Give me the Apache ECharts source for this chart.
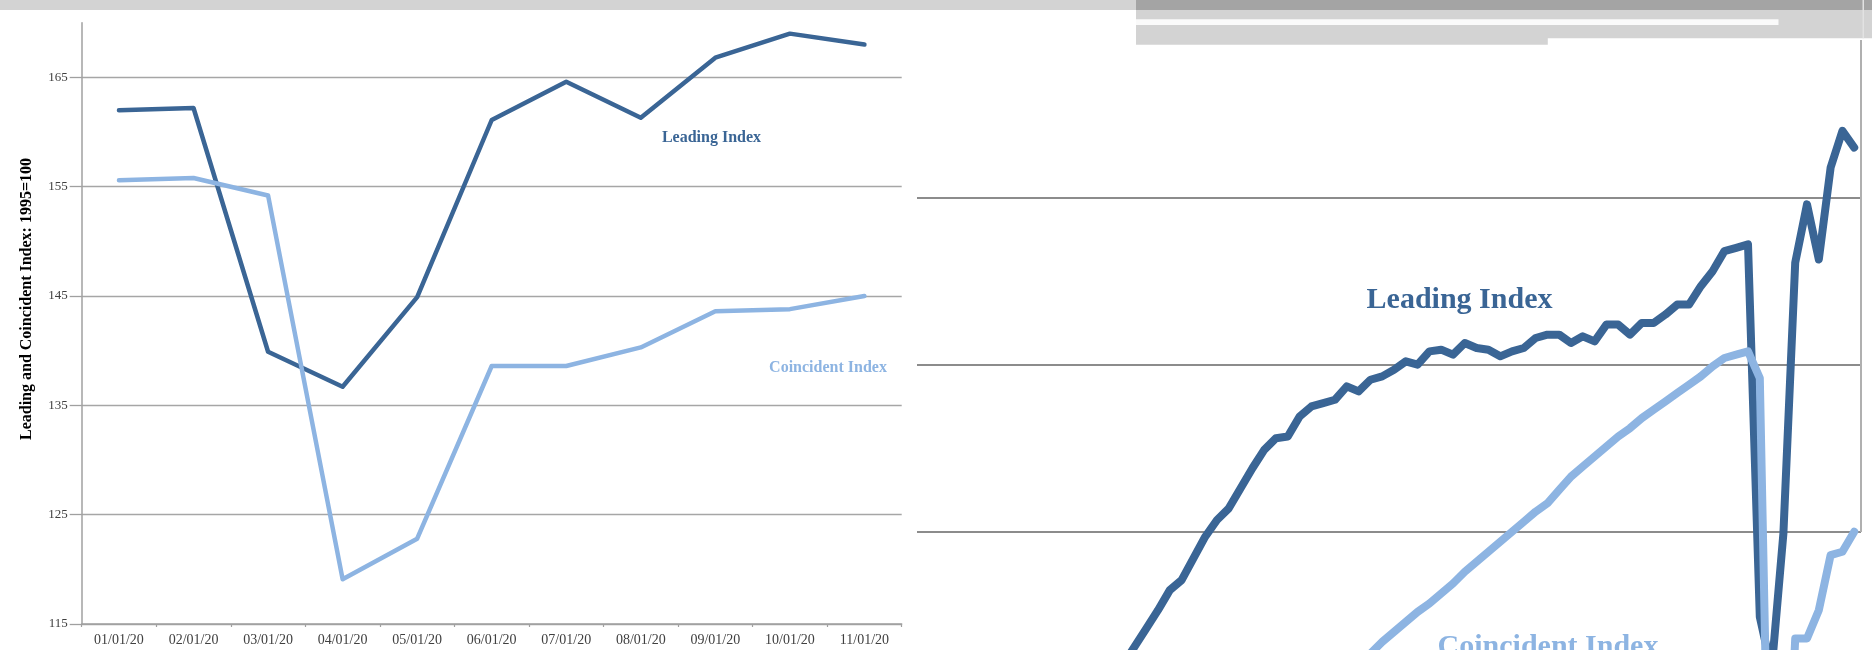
<!DOCTYPE html>
<html>
<head>
<meta charset="utf-8">
<script src="https://cdn.jsdelivr.net/npm/echarts@6/dist/echarts.min.js"></script>
<style>
  html, body { margin: 0; padding: 0; background: #ffffff; }
  #chart { width: 1872px; height: 650px; }
</style>
</head>
<body>
<div id="chart"></div>
<script>
// 2020 monthly readings (index, 1995 = 100)
const months2020 = ['01/01/20', '02/01/20', '03/01/20', '04/01/20', '05/01/20', '06/01/20',
                    '07/01/20', '08/01/20', '09/01/20', '10/01/20', '11/01/20'];
const leading2020 = [162.0, 162.2, 139.9, 136.7, 144.9, 161.1, 164.6, 161.3, 166.8, 169.0, 168.0];
const coincident2020 = [155.6, 155.8, 154.2, 119.1, 122.8, 138.6, 138.6, 140.3, 143.6, 143.8, 145.0];
const indexTicks = [115, 125, 135, 145, 155, 165];

// Longer monthly history leading into 2020 (close-up panel)
const leadingHistoryStart = { year: 2015, month: 9 };
const leadingHistory = [
  137.0, 138.1, 139.2, 140.3,
  141.5, 142.1, 143.4, 144.7, 145.7, 146.4, 147.6, 148.8, 149.9, 150.6, 150.7, 151.9,
  152.5, 152.7, 152.9, 153.7, 153.4, 154.1, 154.3, 154.7, 155.2, 155.0, 155.8, 155.9,
  155.6, 156.3, 156.0, 155.9, 155.5, 155.8, 156.0, 156.6, 156.8, 156.8, 156.3, 156.7,
  156.4, 157.4, 157.4, 156.8, 157.5, 157.5, 158.0, 158.6, 158.6, 159.7, 160.6, 161.8
];
const coincidentHistoryStart = { year: 2017, month: 6 };
const coincidentHistory = [
  137.7, 138.4, 139.0, 139.6, 140.2, 140.7, 141.3,
  141.9, 142.6, 143.2, 143.8, 144.4, 145.0, 145.6, 146.2, 146.7, 147.5, 148.3, 148.9,
  149.5, 150.1, 150.7, 151.2, 151.8, 152.3, 152.8, 153.3, 153.8, 154.3, 154.9, 155.4
];
const closeUpGridValues = [145, 155, 165];

const DARK = '#3a6595';
const LIGHT = '#8db4e2';
const SERIF = '"Liberation Serif", "Times New Roman", serif';

// [decimal year, value] pairs for a run of consecutive months
function monthlyPoints(start, values) {
  return values.map((v, i) => [start.year + (start.month - 1 + i) / 12, v]);
}
const leadingLong = monthlyPoints(leadingHistoryStart, leadingHistory.concat(leading2020));
const coincidentLong = monthlyPoints(coincidentHistoryStart, coincidentHistory.concat(coincident2020));

const chart = echarts.init(document.getElementById('chart'), null, { renderer: 'canvas' });

const option = {
  animation: false,
  backgroundColor: '#ffffff',
  grid: [
    { left: 81.7, right: 970.3, top: 22.7, bottom: 26 },
    { left: 917, right: 11, top: 14, bottom: 1.4 }
  ],
  xAxis: [
    {
      gridIndex: 0,
      type: 'category',
      data: months2020,
      boundaryGap: true,
      axisLine: { show: true, lineStyle: { color: '#a0a0a0', width: 1.5 } },
      axisTick: { show: true, length: 3, interval: 0, lineStyle: { color: '#a0a0a0', width: 1.2 } },
      axisLabel: { interval: 0, margin: 9, fontFamily: SERIF, fontSize: 14, color: '#404040' },
      splitLine: { show: false }
    },
    {
      gridIndex: 1,
      type: 'value',
      min: 2014.2147,
      max: 2020.8813,
      show: false
    }
  ],
  yAxis: [
    {
      gridIndex: 0,
      type: 'value',
      min: 115,
      max: 170,
      axisLine: { show: true, lineStyle: { color: '#a0a0a0', width: 1.5 } },
      axisTick: { show: true, length: 12, customValues: indexTicks, lineStyle: { color: '#a0a0a0', width: 1.3 } },
      axisLabel: { customValues: indexTicks, margin: 14, fontFamily: SERIF, fontSize: 13, color: '#404040' },
      splitLine: { show: true, lineStyle: { color: '#a6a6a6', width: 1.3 } }
    },
    {
      gridIndex: 1,
      type: 'value',
      min: 138,
      max: 176,
      axisLine: { show: false },
      axisTick: { show: false, customValues: closeUpGridValues },
      axisLabel: { show: false, customValues: closeUpGridValues },
      splitLine: { show: true, lineStyle: { color: '#8c8c8c', width: 2.2 } }
    }
  ],
  series: [
    {
      name: 'Leading Index',
      type: 'line',
      xAxisIndex: 0, yAxisIndex: 0,
      data: leading2020,
      symbol: 'none',
      lineStyle: { color: DARK, width: 4.5, cap: 'round', join: 'round' },
      z: 3
    },
    {
      name: 'Coincident Index',
      type: 'line',
      xAxisIndex: 0, yAxisIndex: 0,
      data: coincident2020,
      symbol: 'none',
      lineStyle: { color: LIGHT, width: 4.5, cap: 'round', join: 'round' },
      z: 4
    },
    {
      name: 'Leading Index (monthly)',
      type: 'line',
      xAxisIndex: 1, yAxisIndex: 1,
      data: leadingLong,
      symbol: 'none',
      clip: true,
      lineStyle: { color: DARK, width: 8, cap: 'round', join: 'round' },
      z: 3
    },
    {
      name: 'Coincident Index (monthly)',
      type: 'line',
      xAxisIndex: 1, yAxisIndex: 1,
      data: coincidentLong,
      symbol: 'none',
      clip: true,
      lineStyle: { color: LIGHT, width: 8, cap: 'round', join: 'round' },
      z: 4
    }
  ],
  graphic: [
    // axis title
    {
      type: 'text', x: 26.7, y: 299, rotation: Math.PI / 2, z: 10,
      style: {
        text: 'Leading and Coincident Index: 1995=100',
        font: 'bold 16px ' + SERIF, fill: '#000000',
        align: 'center', verticalAlign: 'middle'
      }
    },
    // series captions
    {
      type: 'text', x: 711.5, y: 138, z: 10,
      style: { text: 'Leading Index', font: 'bold 16px ' + SERIF, fill: DARK, align: 'center', verticalAlign: 'middle' }
    },
    {
      type: 'text', x: 828, y: 367.5, z: 10,
      style: { text: 'Coincident Index', font: 'bold 16px ' + SERIF, fill: LIGHT, align: 'center', verticalAlign: 'middle' }
    },
    {
      type: 'text', x: 1459.5, y: 300, z: 10,
      style: { text: 'Leading Index', font: 'bold 30px ' + SERIF, fill: DARK, align: 'center', verticalAlign: 'middle' }
    },
    {
      type: 'text', x: 1548, y: 647, z: 10,
      style: { text: 'Coincident Index', font: 'bold 30px ' + SERIF, fill: LIGHT, align: 'center', verticalAlign: 'middle' }
    },
    // right border of the close-up panel
    {
      type: 'line', z: 9,
      shape: { x1: 1861, y1: 40, x2: 1861, y2: 532 },
      style: { stroke: '#b0b0b0', lineWidth: 2 }
    },
    // header bands
    { type: 'rect', z: 20, shape: { x: 0, y: 0, width: 1136, height: 10 }, style: { fill: '#d3d3d3' } },
    { type: 'rect', z: 20, shape: { x: 1136, y: 10, width: 736, height: 28.3 }, style: { fill: '#d3d3d3' } },
    { type: 'rect', z: 20, shape: { x: 1136, y: 25, width: 411.8, height: 19.7 }, style: { fill: '#d3d3d3' } },
    { type: 'rect', z: 21, shape: { x: 1136, y: 19.3, width: 642.5, height: 5.7 }, style: { fill: '#fafafa' } },
    { type: 'rect', z: 21, shape: { x: 1136, y: 0, width: 736, height: 10 }, style: { fill: '#a4a4a4' } },
    { type: 'rect', z: 22, shape: { x: 1862.5, y: 0, width: 1.5, height: 38.3 }, style: { fill: '#e2e2e2' } }
  ]
};

chart.setOption(option);
</script>
</body>
</html>
